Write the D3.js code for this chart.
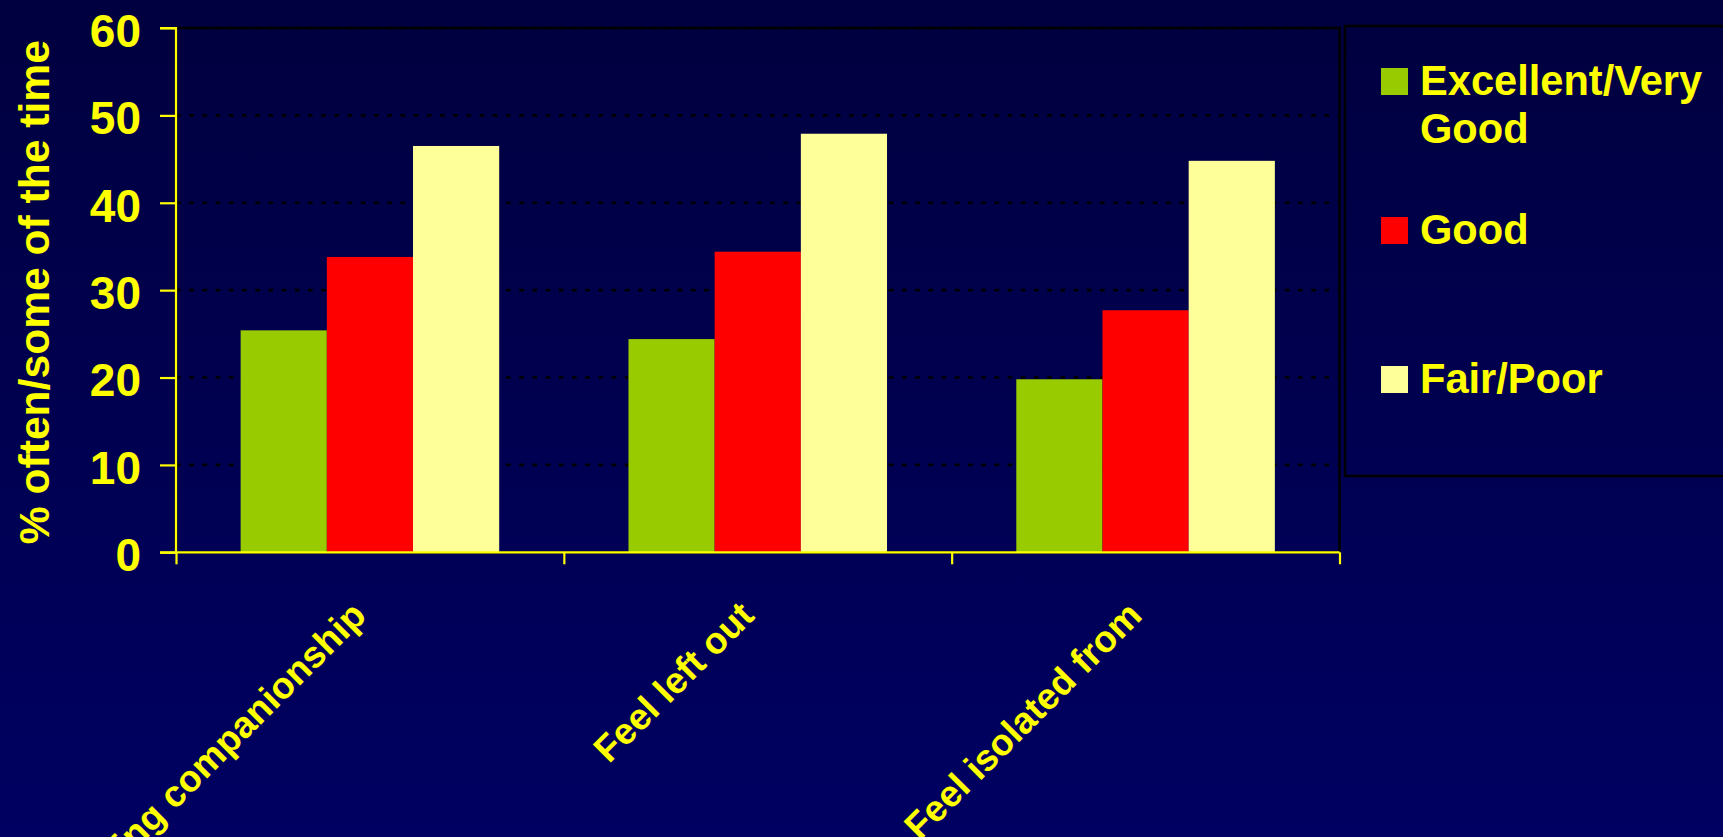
<!DOCTYPE html>
<html>
<head>
<meta charset="utf-8">
<script src="https://cdn.jsdelivr.net/npm/d3@7"></script>
<style>
  html, body { margin: 0; padding: 0; overflow: hidden; background: #000050; }
  svg { display: block; }
  text { font-family: "Liberation Sans", Arial, Helvetica, sans-serif; font-weight: bold; fill: #FFFF00; }
</style>
</head>
<body>
<svg id="chart" width="1723" height="837"></svg>
<script>
// Share reporting each feeling often / some of the time, by self-rated health
const categories = ["Lacking companionship", "Feel left out", "Feel isolated from"];
const seriesNames = ["Excellent/Very Good", "Good", "Fair/Poor"];
const legendLines = [["Excellent/Very", "Good"], ["Good"], ["Fair/Poor"]];
const excellentVeryGood = [25.4, 24.4, 19.8];
const good = [33.8, 34.4, 27.7];
const fairPoor = [46.5, 47.9, 44.8];
const seriesValues = [excellentVeryGood, good, fairPoor];
const yTicks = [0, 10, 20, 30, 40, 50, 60];
const yTitle = "% often/some of the time";

const colors = ["#99CC00", "#FF0000", "#FFFF99"];
const W = 1723, H = 837;
const plot = { left: 176, right: 1339.5, top: 28, bottom: 552.3 };

const svg = d3.select("#chart");

// page background: dark navy, slightly lighter toward the bottom
const defs = svg.append("defs");
const grad = defs.append("linearGradient").attr("id", "bg").attr("x1", 0).attr("y1", 0).attr("x2", 0).attr("y2", 1);
grad.append("stop").attr("offset", "0%").attr("stop-color", "#00003F");
grad.append("stop").attr("offset", "100%").attr("stop-color", "#000062");
svg.append("rect").attr("width", W).attr("height", H).attr("fill", "url(#bg)");

// scales
const x = d3.scaleBand().domain(categories).range([plot.left, plot.right]).paddingInner(0).paddingOuter(0);
const xInner = d3.scaleBand().domain(d3.range(seriesNames.length)).range([0, x.bandwidth()]).paddingInner(0).paddingOuter(0.75);
const xEdges = d3.scaleLinear().domain([0, categories.length]).range([plot.left, plot.right]);
const y = d3.scaleLinear().domain([0, 60]).range([plot.bottom, plot.top]);

// plot frame
svg.append("rect")
  .attr("x", plot.left).attr("y", plot.top)
  .attr("width", plot.right - plot.left).attr("height", plot.bottom - plot.top)
  .attr("fill", "none").attr("stroke", "#000000").attr("stroke-width", 2.5);

// dotted gridlines
svg.append("g")
  .selectAll("line")
  .data(yTicks.filter(d => d > 0))
  .join("line")
  .attr("x1", plot.left).attr("x2", plot.right)
  .attr("y1", d => y(d)).attr("y2", d => y(d))
  .attr("stroke", "#000000").attr("stroke-width", 2.6)
  .attr("stroke-dasharray", "4.7,8.5");

// bars
const groups = svg.append("g").selectAll("g")
  .data(categories)
  .join("g")
  .attr("transform", d => `translate(${x(d)},0)`);

groups.selectAll("rect")
  .data((d, ci) => seriesValues.map((vals, si) => ({ si, v: vals[ci] })))
  .join("rect")
  .attr("x", d => xInner(d.si))
  .attr("width", xInner.bandwidth())
  .attr("y", d => y(d.v))
  .attr("height", d => y(0) - y(d.v))
  .attr("fill", d => colors[d.si]);

// y axis
const yAxis = svg.append("g")
  .attr("transform", `translate(${plot.left},0)`)
  .call(d3.axisLeft(y).tickValues(yTicks).tickSize(16).tickPadding(19).tickFormat(d3.format("d")));
yAxis.selectAll("path, line").attr("stroke", "#FFFF00").attr("stroke-width", 2.2);
yAxis.select(".domain").attr("d", `M-16,${y(60)}H0V${y(0)}H-16`);
yAxis.selectAll("text")
  .attr("font-size", 46).attr("fill", "#FFFF00").attr("dy", "0.40em")
  .style("font-family", '"Liberation Sans", Arial, sans-serif').style("font-weight", "bold");

// x axis: ticks at category boundaries
const xAxis = svg.append("g")
  .attr("transform", `translate(0,${plot.bottom})`)
  .call(d3.axisBottom(xEdges).tickValues(d3.range(categories.length + 1)).tickSize(12).tickFormat(""));
xAxis.selectAll("path, line").attr("stroke", "#FFFF00").attr("stroke-width", 2.2);
xAxis.select(".domain").attr("d", `M${plot.left},0H${plot.right}`);

// rotated category labels
svg.append("g").selectAll("text")
  .data(categories)
  .join("text")
  .attr("transform", d => `translate(${x(d) + x.bandwidth() / 2 - 11},${plot.bottom + 56}) rotate(-45)`)
  .attr("text-anchor", "end")
  .attr("dy", "0.35em")
  .attr("font-size", 37)
  .text(d => d);

// y axis title
svg.append("text")
  .attr("transform", `translate(48.5,${(plot.top + plot.bottom) / 2 + 2}) rotate(-90)`)
  .attr("text-anchor", "middle")
  .attr("font-size", 42.6)
  .text(yTitle);

// legend
const legend = svg.append("g");
legend.append("rect")
  .attr("x", 1345).attr("y", 26).attr("width", 460).attr("height", 450)
  .attr("fill", "none").attr("stroke", "#000000").attr("stroke-width", 2.5);

const legendBaselines = [95, 244, 393];
const item = legend.selectAll("g.item")
  .data(seriesNames)
  .join("g").attr("class", "item");
item.append("rect")
  .attr("x", 1381).attr("y", (d, i) => legendBaselines[i] - 27)
  .attr("width", 27).attr("height", 27)
  .attr("fill", (d, i) => colors[i]);
item.append("text")
  .attr("x", 1420).attr("y", (d, i) => legendBaselines[i])
  .attr("font-size", 41.6)
  .selectAll("tspan")
  .data((d, i) => legendLines[i])
  .join("tspan")
  .attr("x", 1420)
  .attr("dy", (d, j) => j === 0 ? 0 : 48)
  .text(d => d);
</script>
</body>
</html>
